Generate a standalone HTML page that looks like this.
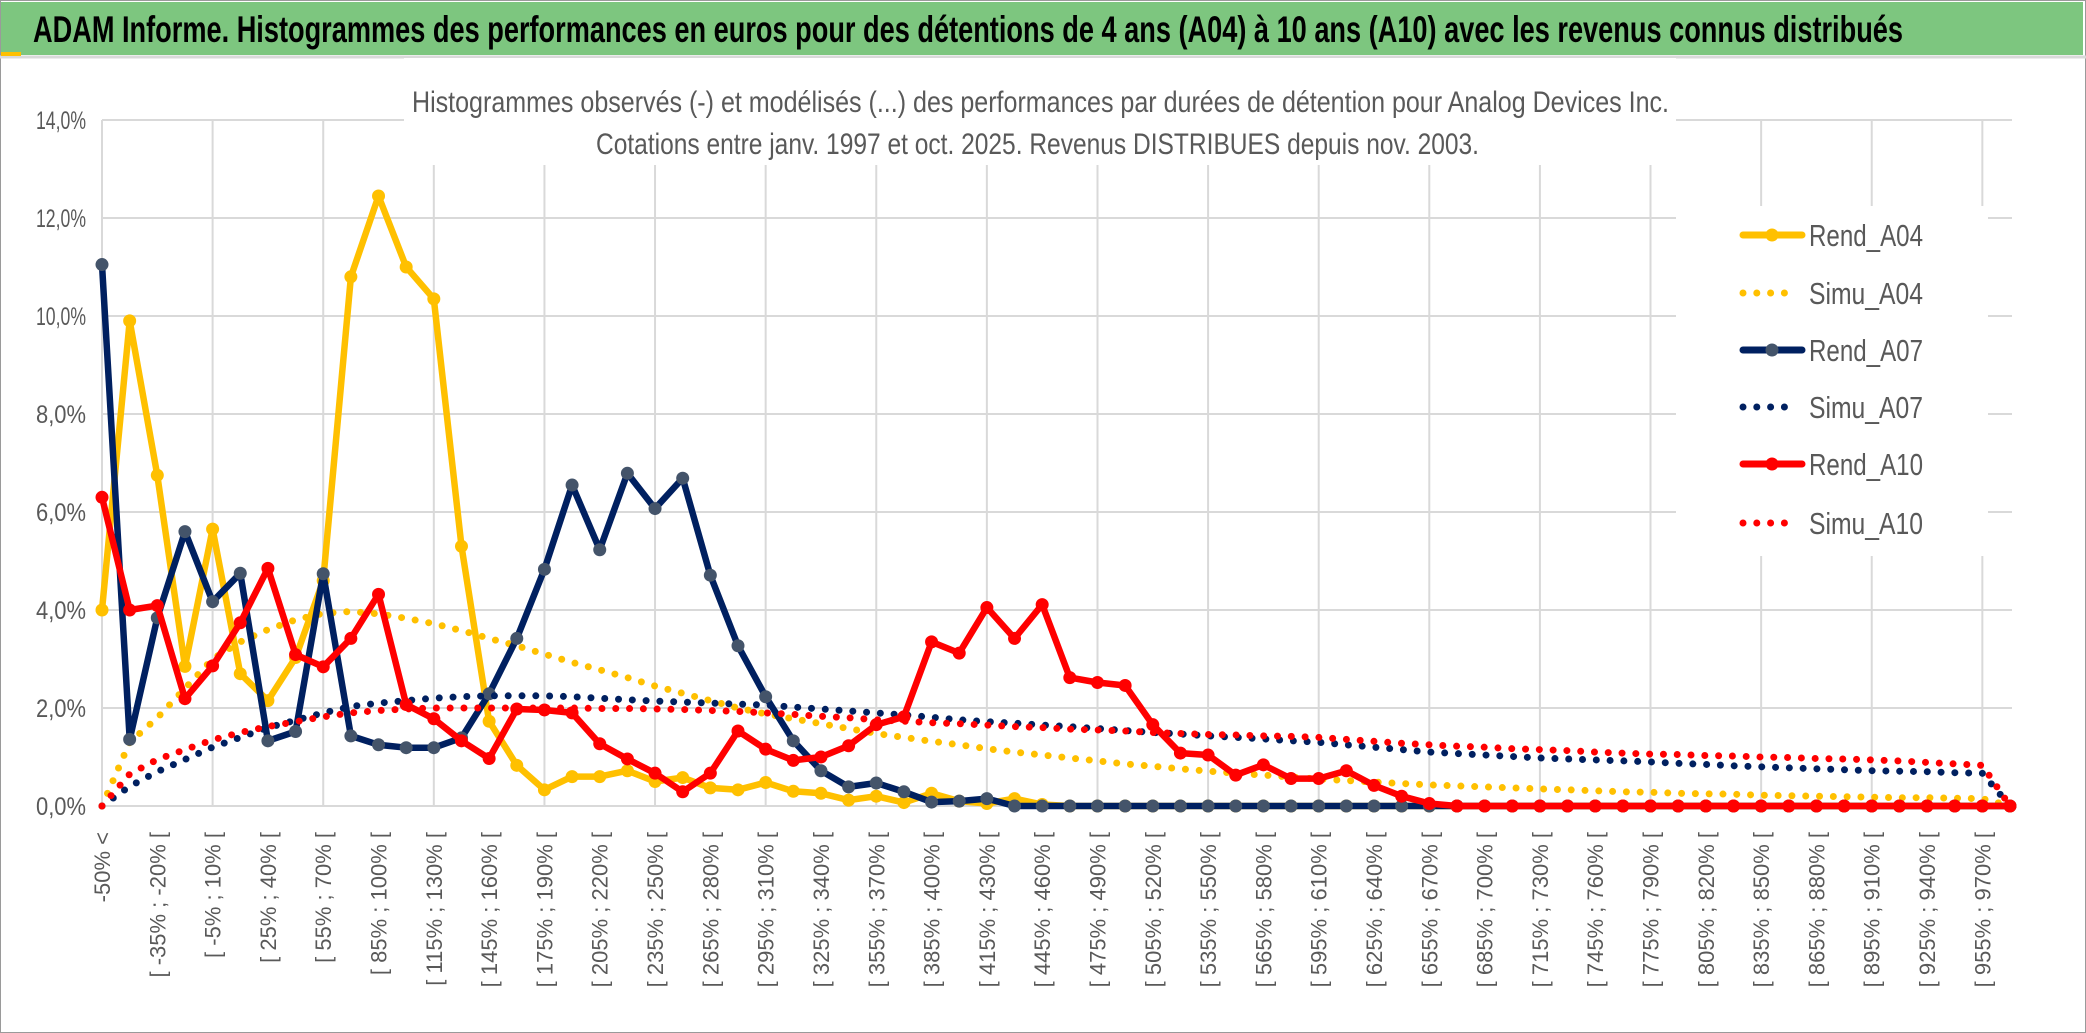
<!DOCTYPE html>
<html><head><meta charset="utf-8">
<style>
html,body{margin:0;padding:0;background:#fff;}
svg{display:block;}
text{font-family:"Liberation Sans",sans-serif;}
</style></head>
<body>
<svg id="chart" width="2086" height="1033" viewBox="0 0 2086 1033" xmlns="http://www.w3.org/2000/svg">
  <rect x="0.5" y="0.5" width="2085" height="1032" fill="#fff" stroke="#9a9a9a"/>
  <rect x="1" y="2" width="2082" height="53" fill="#7DC67F"/>
  <line x1="0" y1="57" x2="2086" y2="57" stroke="#d9d9d9" stroke-width="3"/>
  <rect x="1" y="52" width="20" height="4" fill="#FFC000"/>
  <text x="33" y="42" font-size="37" font-weight="bold" fill="#000" textLength="1870" lengthAdjust="spacingAndGlyphs">ADAM Informe. Histogrammes des performances en euros pour des détentions de 4 ans (A04) à 10 ans (A10) avec les revenus connus distribués</text>
  <g id="grid"></g>
  <rect x="404" y="58" width="1272" height="107" fill="#fff"/>
  <text x="412" y="112" font-size="30" fill="#595959" textLength="1257" lengthAdjust="spacingAndGlyphs">Histogrammes observés (-) et modélisés (...) des performances par durées de détention pour Analog Devices Inc.</text>
  <text x="596" y="154" font-size="30" fill="#595959" textLength="883" lengthAdjust="spacingAndGlyphs">Cotations entre janv. 1997 et oct. 2025. Revenus DISTRIBUES depuis nov. 2003.</text>
  <g id="yaxis"></g>
  <g id="xaxis"></g>
  <g id="series"></g>
  <g id="legend"></g>
</svg>
<script>
const yTicks = [0, 2, 4, 6, 8, 10, 12, 14];
const rendA04 = [4.0,9.9,6.75,2.85,5.65,2.7,2.15,3.03,4.6,10.8,12.45,11.0,10.35,5.3,1.73,0.83,0.33,0.6,0.6,0.72,0.5,0.58,0.37,0.33,0.48,0.3,0.26,0.12,0.2,0.07,0.26,0.1,0.05,0.15,0.03,0,0,0,0,0,0,0,0,0,0,0,0,0,0,0,0,0,0,0,0,0,0,0,0,0,0,0,0,0,0,0,0,0,0,0];
const simuA04 = [0,1.3,1.8,2.4,3.0,3.35,3.6,3.8,3.93,3.97,3.92,3.83,3.72,3.58,3.42,3.27,3.1,2.93,2.78,2.62,2.45,2.3,2.15,2.0,1.88,1.78,1.68,1.58,1.48,1.4,1.32,1.25,1.17,1.1,1.04,0.98,0.92,0.86,0.81,0.76,0.71,0.67,0.63,0.59,0.55,0.52,0.49,0.46,0.43,0.41,0.39,0.37,0.35,0.33,0.31,0.29,0.28,0.26,0.25,0.24,0.22,0.21,0.2,0.19,0.18,0.17,0.17,0.16,0.15,0];
const rendA07 = [11.05,1.36,3.84,5.6,4.17,4.75,1.33,1.52,4.74,1.43,1.25,1.19,1.19,1.39,2.29,3.42,4.83,6.55,5.23,6.79,6.07,6.69,4.71,3.27,2.23,1.33,0.72,0.39,0.47,0.29,0.08,0.1,0.15,0,0,0,0,0,0,0,0,0,0,0,0,0,0,0,0,0,0,0,0,0,0,0,0,0,0,0,0,0,0,0,0,0,0,0,0,0];
const simuA07 = [0,0.4,0.7,0.95,1.2,1.4,1.6,1.75,1.9,2.03,2.1,2.15,2.2,2.23,2.25,2.25,2.25,2.23,2.2,2.17,2.14,2.12,2.1,2.08,2.06,2.02,1.98,1.94,1.9,1.86,1.81,1.76,1.72,1.69,1.65,1.62,1.58,1.54,1.5,1.47,1.43,1.4,1.37,1.33,1.3,1.25,1.2,1.15,1.1,1.07,1.04,1.01,0.98,0.96,0.94,0.92,0.9,0.87,0.85,0.82,0.8,0.78,0.76,0.74,0.72,0.71,0.7,0.68,0.67,0];
const rendA10 = [6.3,4.0,4.09,2.19,2.86,3.74,4.85,3.09,2.84,3.42,4.32,2.07,1.78,1.33,0.97,1.98,1.96,1.9,1.27,0.96,0.67,0.29,0.67,1.53,1.16,0.93,1.0,1.23,1.66,1.82,3.35,3.12,4.05,3.42,4.11,2.62,2.52,2.46,1.66,1.08,1.04,0.63,0.84,0.56,0.56,0.72,0.42,0.2,0.05,0,0,0,0,0,0,0,0,0,0,0,0,0,0,0,0,0,0,0,0,0];
const simuA10 = [0,0.65,0.95,1.15,1.35,1.5,1.62,1.72,1.82,1.9,1.95,1.98,2.0,2.0,2.0,2.0,2.0,2.0,1.99,1.99,1.98,1.97,1.95,1.93,1.9,1.87,1.83,1.8,1.76,1.73,1.7,1.68,1.65,1.62,1.6,1.57,1.55,1.53,1.5,1.48,1.46,1.45,1.43,1.42,1.4,1.36,1.32,1.28,1.25,1.22,1.2,1.17,1.15,1.13,1.1,1.08,1.06,1.05,1.03,1.02,1.0,0.99,0.97,0.96,0.94,0.92,0.89,0.86,0.83,0];
const seriesNames = ["Rend_A04","Simu_A04","Rend_A07","Simu_A07","Rend_A10","Simu_A10"];

const NS = "http://www.w3.org/2000/svg";
const N = rendA04.length;
const X0 = 102, X1 = 2010, Y0 = 806, YTOP = 120;
function xPos(i){ return X0 + i*(X1-X0)/(N-1); }
function yPos(v){ return Y0 - v*(Y0-YTOP)/14; }
function catLabel(i){
  if(i===0) return "-50% <";
  const a = -50 + 15*(i-1);
  return "[ " + a + "% ; " + (a+15) + "% [";
}
function mk(tag, attrs, parent){
  const e = document.createElementNS(NS, tag);
  for(const k in attrs) e.setAttribute(k, attrs[k]);
  parent.appendChild(e);
  return e;
}
const grid = document.getElementById('grid');
for(const t of yTicks){
  const l = mk('line',{x1:X0,x2:2012,y1:yPos(t),y2:yPos(t),stroke:'#d9d9d9','stroke-width':2},grid);
  
  
}
for(let i=0;i<N;i+=4){
  const l = mk('line',{x1:xPos(i),x2:xPos(i),y1:YTOP,y2:Y0,stroke:'#d9d9d9','stroke-width':2},grid);
  
  
}
const yax = document.getElementById('yaxis');
for(const t of yTicks){
  const tx = mk('text',{x:86,y:yPos(t)+9,'font-size':25,fill:'#595959','text-anchor':'end',textLength:50,lengthAdjust:'spacingAndGlyphs'},yax);
  tx.textContent = t.toFixed(1).replace('.',',') + '%';
  
  
}
const xax = document.getElementById('xaxis');
for(let i=0;i<N-1;i+=2){
  const x = xPos(i)+8, y = 832;
  const tx = mk('text',{x:x,y:y,'font-size':22,fill:'#595959','text-anchor':'end',transform:'rotate(-90 '+x+' '+y+')'},xax);
  tx.textContent = catLabel(i);
  
  
}
const ser = document.getElementById('series');
function pts(arr){ return arr.map((v,i)=>xPos(i).toFixed(1)+','+yPos(v).toFixed(1)).join(' '); }
function drawRend(arr, color, mcolor, name){
  const g = mk('g',{},ser);
  
  
  mk('polyline',{points:pts(arr),fill:'none',stroke:color,'stroke-width':6.5,'stroke-linejoin':'round'},g);
  arr.forEach((v,i)=>{
    const c = mk('circle',{cx:xPos(i),cy:yPos(v),r:6.5,fill:mcolor},g);
    
    
  });
}
function drawSimu(arr, color, name){
  const p = mk('polyline',{points:pts(arr),fill:'none',stroke:color,'stroke-width':7,'stroke-linecap':'round','stroke-dasharray':'0 13.8'},ser);
  
  
}
drawRend(rendA04,'#FFC000','#FFC000','rend-a04-line');
drawSimu(simuA04,'#FFC000','simu-a04-line');
drawRend(rendA07,'#002060','#44546A','rend-a07-line');
drawSimu(simuA07,'#002060','simu-a07-line');
drawRend(rendA10,'#FF0000','#FF0000','rend-a10-line');
drawSimu(simuA10,'#FF0000','simu-a10-line');

const leg = document.getElementById('legend');
const bg = mk('rect',{x:1676,y:206,width:312,height:350,fill:'#fff'},leg);


const legColors = ['#FFC000','#FFC000','#002060','#002060','#FF0000','#FF0000'];
const legMarker = ['#FFC000',null,'#44546A',null,'#FF0000',null];
const legY = [235,293,350,407,464,523];
seriesNames.forEach((nm,k)=>{
  const g = mk('g',{},leg);
  
  
  const y = legY[k];
  if(legMarker[k]){
    mk('line',{x1:1743,x2:1802,y1:y,y2:y,stroke:legColors[k],'stroke-width':7,'stroke-linecap':'round'},g);
    mk('circle',{cx:1772,cy:y,r:6.5,fill:legMarker[k]},g);
  } else {
    mk('line',{x1:1743,x2:1795,y1:y,y2:y,stroke:legColors[k],'stroke-width':7,'stroke-linecap':'round','stroke-dasharray':'0 13.8'},g);
  }
  const t = mk('text',{x:1809,y:y+11,'font-size':31,fill:'#595959',textLength:114,lengthAdjust:'spacingAndGlyphs'},g);
  t.textContent = nm;
});
</script>
</body></html>
